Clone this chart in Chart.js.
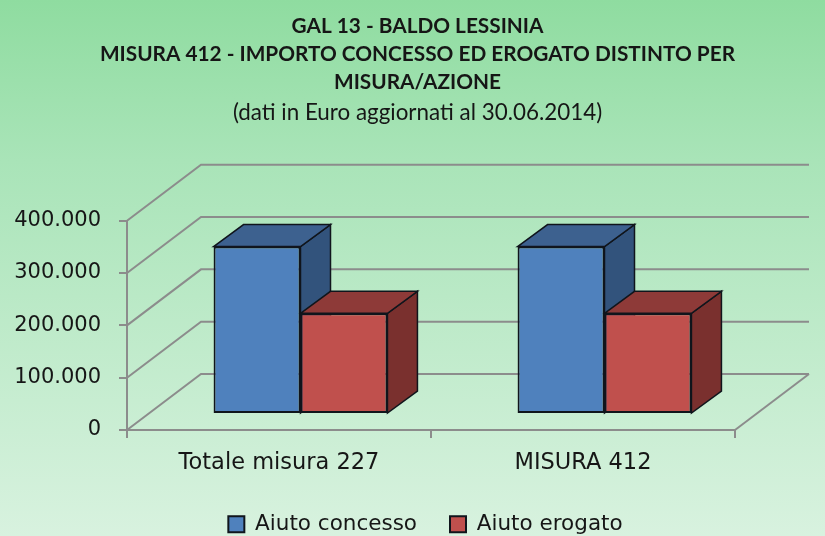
<!DOCTYPE html>
<html>
<head>
<meta charset="utf-8">
<style>
html, body { margin: 0; padding: 0; }
body { width: 825px; height: 536px; overflow: hidden; background: linear-gradient(180deg, #8fdca0 0%, #a9e4b8 30%, #d8f2df 100%); }
canvas { display: block; }
</style>
</head>
<body>
<canvas id="myChart" width="825" height="536"></canvas>
<script src="https://cdn.jsdelivr.net/npm/chart.js@4"></script>
<script>
var categories = ["Totale misura 227", "MISURA 412"];
var aiutoConcesso = [320000, 320000];
var aiutoErogato = [192500, 192500];
var titleLines = ["GAL 13 - BALDO LESSINIA", "MISURA 412 - IMPORTO CONCESSO ED EROGATO DISTINTO PER", "MISURA/AZIONE"];
var subtitleLine = "(dati in Euro aggiornati al 30.06.2014)";

var gridColor = "#8c8c8c";
var textColor = "#161616";
var sideFont = '"DejaVu Sans"';
var wall = { dx: 74, dy: -56 };   // back wall offset
var barShift = { dx: 21.5, dy: -16 };  // bars stand a little inside the floor
var barDepth = { dx: 30, dy: -22 };

function face(ctx, pts, fill) {
	ctx.beginPath();
	ctx.moveTo(pts[0][0], pts[0][1]);
	for (var i = 1; i < pts.length; i++) ctx.lineTo(pts[i][0], pts[i][1]);
	ctx.closePath();
	ctx.fillStyle = fill;
	ctx.fill();
	ctx.strokeStyle = "#10151c";
	ctx.lineWidth = 1.5;
	ctx.stroke();
}

// fake 3d: back wall grid lines and the top/side faces of the bars
var depthPlugin = {
	id: "depth",
	afterLayout: function (chart) {
		// legend sits a bit lower and to the right of where the layout puts it
		var legend = chart.legend;
		legend.left += 8;
		legend.right += 8;
		legend.top += 9;
		legend.bottom += 9;
	},
	beforeDatasetsDraw: function (chart) {
		var ctx = chart.ctx;
		var y = chart.scales.y;
		var area = chart.chartArea;

		ctx.save();
		ctx.strokeStyle = gridColor;
		ctx.lineWidth = 2;
		y.ticks.forEach(function (t) {
			var py = y.getPixelForValue(t.value);
			ctx.beginPath();
			ctx.moveTo(area.left, py);
			ctx.lineTo(area.left + wall.dx, py + wall.dy);
			ctx.lineTo(area.right + wall.dx, py + wall.dy);
			ctx.stroke();
		});
		ctx.beginPath();
		ctx.moveTo(area.right, area.bottom);
		ctx.lineTo(area.right + wall.dx, area.bottom + wall.dy);
		ctx.stroke();
		ctx.restore();

		ctx.save();
		ctx.translate(barShift.dx, barShift.dy);
		var faceColors = [["#3d618f", "#32537c"], ["#8e3a38", "#7a302e"]];
		[0, 1].forEach(function (d) {
			chart.getDatasetMeta(d).data.forEach(function (bar) {
				var l = bar.x - bar.width / 2;
				var r = bar.x + bar.width / 2;
				var dx = barDepth.dx, dy = barDepth.dy;
				face(ctx, [[r, bar.y], [r + dx, bar.y + dy], [r + dx, bar.base + dy], [r, bar.base]], faceColors[d][1]);
				face(ctx, [[l, bar.y], [l + dx, bar.y + dy], [r + dx, bar.y + dy], [r, bar.y]], faceColors[d][0]);
			});
		});
		ctx.restore();

		// the front faces are the real bars, moved onto the same plane
		ctx.save();
		ctx.translate(barShift.dx, barShift.dy);
	},
	afterDatasetsDraw: function (chart) {
		chart.ctx.restore();
	},
};

new Chart(document.getElementById("myChart"), {
	type: "bar",
	plugins: [depthPlugin],
	data: {
		labels: categories,
		datasets: [
			{ label: "Aiuto concesso", data: aiutoConcesso, backgroundColor: "#4f81bd", borderColor: "#10151c", borderWidth: 2, borderSkipped: false, clip: false },
			{ label: "Aiuto erogato", data: aiutoErogato, backgroundColor: "#c0504d", borderColor: "#10151c", borderWidth: 2, borderSkipped: false, clip: false },
		],
	},
	options: {
		responsive: false,
		animation: false,
		layout: { padding: { left: 10, right: 0, top: 12, bottom: 0 } },
		datasets: { bar: { categoryPercentage: 0.572, barPercentage: 1 } },
		plugins: {
			tooltip: { enabled: false },
			title: {
				display: true,
				text: titleLines,
				color: textColor,
				font: { family: "Lato", size: 20.8, weight: "bold", lineHeight: 1.346 },
				padding: { top: 0, bottom: 0 },
			},
			subtitle: {
				display: true,
				text: subtitleLine,
				color: textColor,
				font: { family: "Lato", size: 22.4, weight: "normal", lineHeight: 1.295 },
				padding: { top: 2.5, bottom: 93.2 },
			},
			legend: {
				position: "bottom",
				labels: {
					color: textColor,
					font: { family: sideFont, size: 21.5 },
					boxWidth: 16,
					boxHeight: 16,
					padding: 33,
				},
			},
		},
		scales: {
			x: {
				offset: true,
				border: { color: gridColor, width: 2 },
				grid: { drawOnChartArea: false, color: gridColor, lineWidth: 2, tickLength: 8 },
				ticks: { color: textColor, font: { family: sideFont, size: 22.5 }, padding: 12 },
				afterFit: function (s) { s.height = 41.5; },
			},
			y: {
				min: 0,
				max: 400000,
				border: { color: gridColor, width: 2 },
				grid: { drawOnChartArea: false, color: gridColor, lineWidth: 2, tickLength: 8 },
				ticks: {
					stepSize: 100000,
					color: textColor,
					font: { family: sideFont, size: 21 },
					padding: 18,
					callback: function (v) { return String(v).replace(/\B(?=(\d{3})+$)/g, "."); },
				},
				afterFit: function (s) { s.width = 117; },
			},
			// empty axis, only keeps the room for the back wall on the right
			gutter: {
				position: "right",
				border: { display: false },
				grid: { display: false },
				ticks: { display: false },
				afterFit: function (s) { s.width = 90; },
			},
		},
	},
});
</script>
</body>
</html>
